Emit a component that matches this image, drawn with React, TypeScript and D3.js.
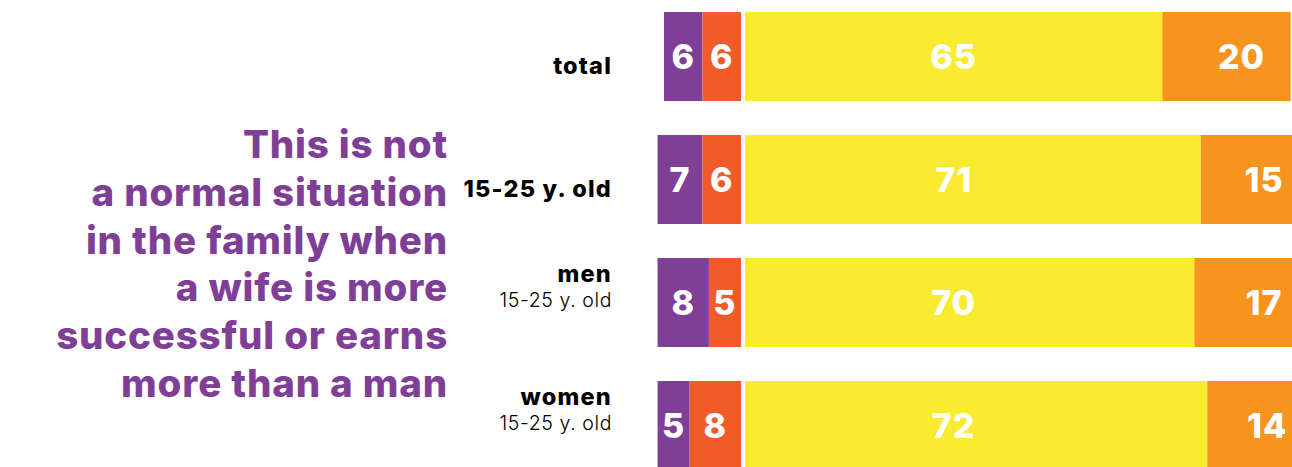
import { useEffect, useRef } from "react";
import * as d3 from "d3";

const width = 1292;
const height = 467;

// rows of the chart
const groups = ["total", "15-25 y. old", "men", "women"];
const subLabels = ["", "", "15-25 y. old", "15-25 y. old"];

// series values, % (left block: disagree-ish, right block: agree-ish)
const purpleVals = [6, 7, 8, 5];
const redVals = [6, 6, 5, 8];
const yellowVals = [65, 71, 70, 72];
const orangeVals = [20, 15, 17, 14];

const titleLines = [
  "This is not",
  "a normal situation",
  "in the family when",
  "a wife is more",
  "successful or earns",
  "more than a man",
];

const colors = {
  purple: "#7F3F97",
  red: "#F15A29",
  yellow: "#F9EB30",
  orange: "#F7941D",
};

const FONT = "Inter, 'Open Sans', sans-serif";

export default function App() {
  const ref = useRef<SVGSVGElement>(null);

  useEffect(() => {
    document.body.style.margin = "0";
    const svg = d3.select(ref.current);
    svg.selectAll("*").remove();

    const divider = 741; // where the left block ends
    const gap = 4;
    const unit = 6.42;

    const xLeft = d3.scaleLinear().domain([0, 100]).range([divider, divider - 100 * unit]);
    const xRight = d3.scaleLinear().domain([0, 100]).range([divider + gap, divider + gap + 100 * unit]);

    const y = d3
      .scaleBand<string>()
      .domain(groups)
      .range([12, 470])
      .paddingInner(0.2764)
      .paddingOuter(0);
    const bh = y.bandwidth();

    const rows = groups.map((g, i) => ({
      g,
      i,
      p: purpleVals[i],
      r: redVals[i],
      yl: yellowVals[i],
      o: orangeVals[i],
    }));

    const bars = svg.append("g");
    const labels = svg.append("g").attr("fill", "#fff").attr("font-family", FONT)
      .attr("font-weight", 800).attr("font-size", 34).attr("letter-spacing", 1)
      .attr("text-anchor", "middle");

    rows.forEach((d) => {
      const top = y(d.g)!;
      const cy = top + bh / 2;
      const segs = [
        { x0: xLeft(d.r + d.p), x1: xLeft(d.r), v: d.p, c: colors.purple },
        { x0: xLeft(d.r), x1: xLeft(0), v: d.r, c: colors.red },
        { x0: xRight(0), x1: xRight(d.yl), v: d.yl, c: colors.yellow },
        { x0: xRight(d.yl), x1: xRight(d.yl + d.o), v: d.o, c: colors.orange },
      ];
      segs.forEach((s, k) => {
        bars.append("rect")
          .attr("x", s.x0).attr("y", top)
          .attr("width", s.x1 - s.x0).attr("height", bh)
          .attr("fill", s.c);
        let tx = (s.x0 + s.x1) / 2;
        if (k === 2) tx = xRight(32.5);
        if (k === 3) tx += 15;
        labels.append("text")
          .attr("x", tx).attr("y", cy)
          .attr("dy", "0.36em")
          .text(s.v);
      });
    });

    // row labels
    const rl = svg.append("g").attr("font-family", FONT).attr("text-anchor", "end").attr("fill", "#000");
    rows.forEach((d) => {
      const cy = y(d.g)! + bh / 2;
      const sub = subLabels[d.i];
      rl.append("text")
        .attr("x", 612).attr("y", sub ? cy - 20 : cy + 17)
        .attr("font-size", 23.5).attr("font-weight", 800)
        .attr("letter-spacing", 1.2)
        .text(d.g);
      if (sub) {
        rl.append("text")
          .attr("x", 612).attr("y", cy + 5)
          .attr("font-size", 19.5).attr("font-weight", 300)
          .attr("letter-spacing", 0.6)
          .text(sub);
      }
    });

    // title
    const title = svg.append("text")
      .attr("font-family", FONT).attr("font-weight", 800)
      .attr("font-size", 38.5).attr("fill", colors.purple)
      .attr("letter-spacing", 0.8)
      .attr("text-anchor", "end");
    titleLines.forEach((t, i) => {
      title.append("tspan").attr("x", 448).attr("y", 158 + i * 47.8).text(t);
    });
  }, []);

  return <svg ref={ref} width={width} height={height} style={{ display: "block" }} />;
}
